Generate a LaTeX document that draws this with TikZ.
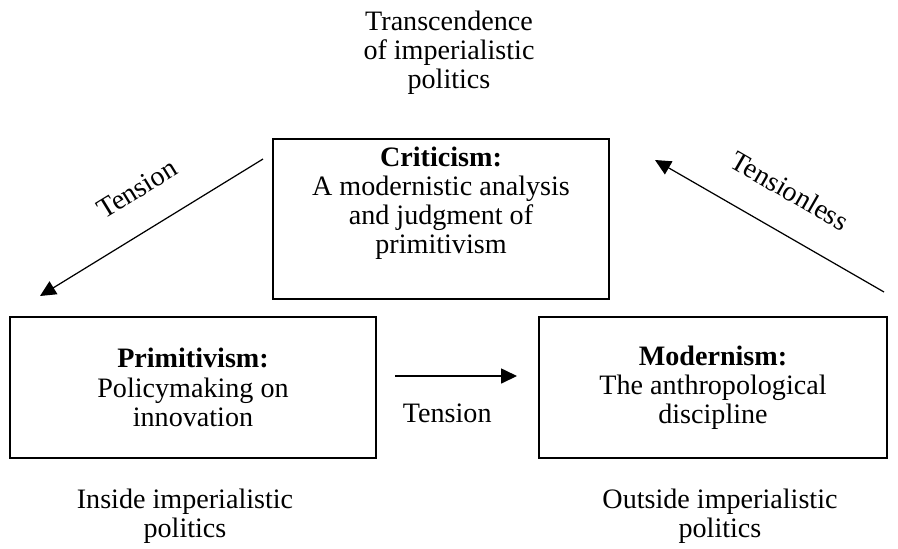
\documentclass[tikz,border=0pt]{standalone}
\usepackage{fontspec}
\setmainfont{Liberation Serif}
\usetikzlibrary{arrows.meta,positioning}

\begin{document}
\begin{tikzpicture}[
    every node/.style={font=\fontsize{16}{16.6}\selectfont, align=center},
    box/.style={draw, line width=0.7pt, inner sep=0pt},
    link/.style={line width=0.7pt, -{Triangle[length=9pt,width=8.5pt]}}]
\useasboundingbox (0,0) rectangle (17.96,-10.96);
% top
\node               (trans) at (8.98,-1.06) {Transcendence\\of imperialistic\\politics};
\node[box, minimum width=6.72cm, minimum height=3.2cm] (crit) at (8.82,-4.38) {};
\node               (crittxt) at ([yshift=0.32cm]crit.center)
    {\textbf{Criticism:}\\A modernistic analysis\\and judgment of\\primitivism};
% left
\node[box, minimum width=7.32cm, minimum height=2.82cm] (prim) at (3.86,-7.75)
    {\textbf{Primitivism:}\\Policymaking on\\innovation};
\node               (inside) at (3.70,-10.32) {Inside imperialistic\\politics};
% right
\node[box, minimum width=6.96cm, minimum height=2.82cm] (mod) at (14.26,-7.75)
    {\textbf{Modernism:}\\The anthropological\\discipline};
\node               (outside) at (14.40,-10.32) {Outside imperialistic\\politics};
% arrows
\coordinate (l1) at (5.26,-3.18);
\coordinate (l2) at (0.80,-5.92);
\coordinate (m1) at (7.90,-7.52);
\coordinate (m2) at (10.34,-7.52);
\coordinate (r1) at (17.68,-5.84);
\coordinate (r2) at (13.10,-3.20);
\draw[link] (l1) -- (l2)
    node[pos=0.47, above, sloped, yshift=14pt] (ltxt) {Tension};
\draw[link] (m1) -- (m2)
    node[midway, below, yshift=-12pt, xshift=-5pt] (mtxt) {Tension};
\draw[link] (r1) -- (r2)
    node[pos=0.5, above, sloped, yshift=14pt] (rtxt) {Tensionless};
\end{tikzpicture}
\end{document}
